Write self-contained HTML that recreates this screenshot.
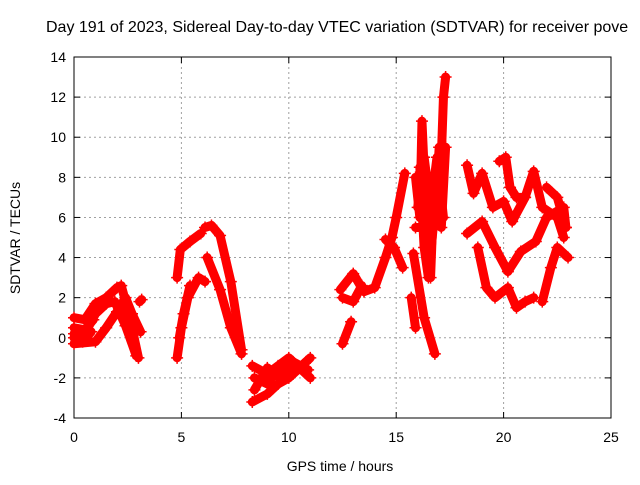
<!DOCTYPE html>
<html><head><meta charset="utf-8"><style>
body{margin:0;background:#fff;}
svg text{font-family:"Liberation Sans",sans-serif;font-size:14px;fill:#000;}
</style></head><body>
<svg width="640" height="480" xmlns="http://www.w3.org/2000/svg">
<rect width="640" height="480" fill="#fff"/>
<g id="grid"></g>
<g id="axes"></g>
<g id="series"></g>
<text x="46" y="32" style="font-size:16px">Day 191 of 2023, Sidereal Day-to-day VTEC variation (SDTVAR) for receiver pove</text>
<text x="340" y="471" text-anchor="middle">GPS time / hours</text>
<text transform="translate(20,238) rotate(-90)" text-anchor="middle">SDTVAR / TECUs</text>
</svg>
<script>
const xTicks=[0,5,10,15,20,25];
const yTicks=[-4,-2,0,2,4,6,8,10,12,14];
const traces=[
 [[0,1],[0.5,0.9],[1,1.7],[1.5,2],[2,2.5],[2.2,2.6],[2.6,1],[3,-1]],
 [[0,0],[0.5,0.2],[1,1.2],[1.5,1.7],[1.9,1.8],[2.4,0.6],[2.9,-0.9]],
 [[0,-0.3],[1,-0.2],[1.5,0.5],[2,1.3],[2.4,2],[2.7,1.2],[3.1,0.3]],
 [[0,0.2],[0.4,-0.2],[0.8,0.3]],
 [[0,0.5],[0.5,0.4],[0.9,0.9]],
 [[3.05,1.8],[3.15,1.9]],
 [[4.8,-1],[5,0.5],[5.3,2],[5.8,3],[6.1,2.8]],
 [[4.9,0],[5.1,1.2],[5.4,2.6]],
 [[4.8,3],[4.95,4.4],[5.4,4.8],[5.9,5.2]],
 [[6.1,5.5],[6.4,5.6],[6.8,5.1],[7.3,2.8],[7.8,-0.6]],
 [[6.2,4],[6.8,2.4],[7.3,0.5],[7.8,-0.8]],
 [[8.3,-1.4],[9,-1.8],[9.5,-1.4],[10,-1],[10.5,-1.5],[11,-1]],
 [[8.3,-3.2],[9,-2.8],[9.5,-2.3],[10,-2],[10.5,-1.5],[11,-2]],
 [[8.4,-2],[9,-2.3],[9.6,-1.4],[10.2,-1.8],[10.8,-1.2]],
 [[8.4,-2.6],[9,-1.5],[9.6,-2],[10.2,-1.2],[10.9,-1.6]],
 [[12.4,2.4],[13,3.2],[13.5,2.3],[14,2.5],[14.5,4],[14.8,5],[15,6],[15.4,8.2]],
 [[12.5,-0.3],[12.9,0.8]],
 [[12.5,2],[13,1.8],[13.4,2.6]],
 [[14.5,4.9],[14.9,4.5],[15.3,3.5]],
 [[15.8,4.2],[16.3,1],[16.8,-0.8]],
 [[15.7,2],[15.9,0.5]],
 [[15.9,8],[16.1,6],[16.2,10.8],[16.4,6],[16.6,5],[16.8,8],[17,6],[17.1,9],[17.2,12],[17.3,13]],
 [[15.9,5.5],[16.3,5.5],[16.6,3],[16.7,5.8],[17.1,5.5],[17.3,9.5]],
 [[16.1,8.5],[16.3,4.5],[16.5,3],[16.9,7.5],[17,9.5]],
 [[16,6.5],[16.3,9],[16.6,6.5],[16.9,9],[17.2,6]],
 [[18.3,8.6],[18.6,7.2],[19,8.2],[19.5,6.5],[20,6.8],[20.4,5.8],[21,7],[21.4,8.3],[21.8,6.5],[22.5,6],[22.8,5]],
 [[18.3,5.2],[19,5.8],[19.6,4.5],[20.2,3.3],[20.8,4.3],[21.5,4.8],[22,6],[22.8,6.5],[22.9,5.5]],
 [[18.8,4.5],[19.2,2.5],[19.6,2],[20.2,2.5],[20.6,1.5],[21,1.8],[21.4,2]],
 [[21.8,1.8],[22.2,3.5],[22.5,4.5],[23,4]],
 [[19.8,8.8],[20.1,9],[20.3,7.5],[20.6,7],[21,7]],
 [[22,7.5],[22.5,7],[22.9,5.5]]
];
const X0=74,X1=611,Y0=418,Y1=57;
function xs(v){return X0+(v-0)/(25-0)*(X1-X0);}
function ys(v){return Y0-(v+4)/(18)*(Y0-Y1);}
const NS="http://www.w3.org/2000/svg";
function mk(tag,attrs,parent){const e=document.createElementNS(NS,tag);for(const k in attrs)e.setAttribute(k,attrs[k]);parent.appendChild(e);return e;}
const grid=document.getElementById('grid'),axes=document.getElementById('axes'),ser=document.getElementById('series');
xTicks.forEach(t=>{
 const x=xs(t);
 if(t>0&&t<25){const l=mk('line',{x1:x,y1:Y1,x2:x,y2:Y0,stroke:'#a0a0a0','stroke-dasharray':'2,3'},grid);
 
 }
 mk('line',{x1:x,y1:Y0,x2:x,y2:Y0-6,stroke:'#000'},axes);
 mk('line',{x1:x,y1:Y1,x2:x,y2:Y1+6,stroke:'#000'},axes);
 const tx=mk('text',{x:x,y:Y0+24,'text-anchor':'middle'},axes);tx.textContent=t;
 
 
});
yTicks.forEach(t=>{
 const y=ys(t);
 if(t>-4&&t<14){const l=mk('line',{x1:X0,y1:y,x2:X1,y2:y,stroke:'#a0a0a0','stroke-dasharray':'2,3'},grid);
 
 }
 mk('line',{x1:X0,y1:y,x2:X0+6,y2:y,stroke:'#000'},axes);
 mk('line',{x1:X1,y1:y,x2:X1-6,y2:y,stroke:'#000'},axes);
 const tx=mk('text',{x:X0-8,y:y+5,'text-anchor':'end'},axes);tx.textContent=t;
 
 
});
const fr=mk('rect',{x:X0,y:Y1,width:X1-X0,height:Y0-Y1,fill:'none',stroke:'#000'},axes);


traces.forEach(tr=>{
 const p=mk('polyline',{points:tr.map(d=>xs(d[0])+','+ys(d[1])).join(' '),fill:'none',stroke:'#ff0000','stroke-width':9,'stroke-linejoin':'round','stroke-linecap':'round'},ser);
 
 
 tr.forEach(d=>{
  const x=xs(d[0]),y=ys(d[1]);
  const m=mk('path',{d:`M${x-6},${y}H${x+6}M${x},${y-6}V${y+6}`,stroke:'#ff0000','stroke-width':1.5},ser);
  
  
 });
});
</script>
</body></html>
